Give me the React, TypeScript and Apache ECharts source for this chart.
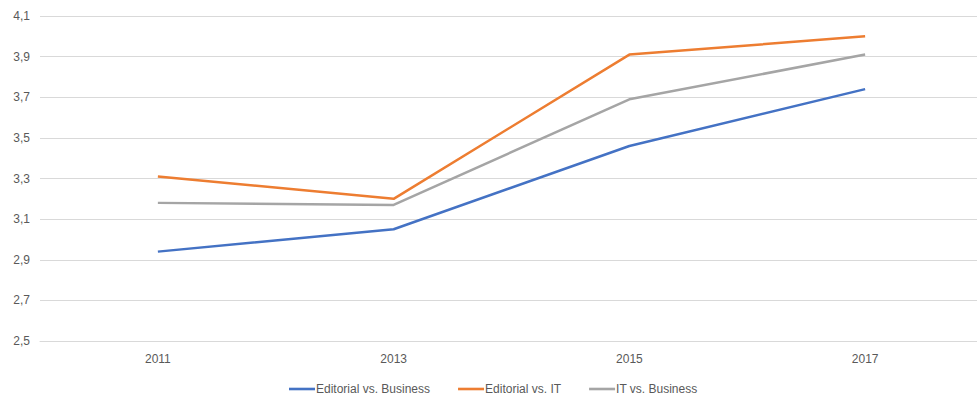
import React, { useEffect, useRef } from "react";
import * as echarts from "echarts";

const years = ["2011", "2013", "2015", "2017"];
const editorialVsBusiness = [2.94, 3.05, 3.46, 3.74];
const editorialVsIT = [3.31, 3.2, 3.91, 4.0];
const itVsBusiness = [3.18, 3.17, 3.69, 3.91];

export default function App() {
  const ref = useRef<HTMLDivElement>(null);
  useEffect(() => {
    if (!ref.current) return;
    const chart = echarts.init(ref.current, undefined, { renderer: "svg" });
    const font = "'Liberation Sans', sans-serif";
    chart.setOption({
      animation: false,
      grid: { left: 40, top: 16, right: 7, bottom: 56, containLabel: false },
      xAxis: {
        type: "category",
        data: years,
        boundaryGap: true,
        axisLine: { show: true, lineStyle: { color: "#d9d9d9", width: 1 } },
        axisTick: { show: false },
        axisLabel: { color: "#595959", fontSize: 12, fontFamily: font, margin: 12 },
      },
      yAxis: {
        type: "value",
        min: 2.5,
        max: 4.1,
        interval: 0.2,
        axisLine: { show: false },
        axisTick: { show: false },
        splitLine: { lineStyle: { color: "#d9d9d9", width: 1 } },
        axisLabel: {
          color: "#595959",
          fontSize: 12,
          fontFamily: font,
          margin: 10,
          formatter: (v: number) => v.toFixed(1).replace(".", ","),
        },
      },
      legend: {
        top: 383,
        left: 289,
        padding: 0,
        icon: "path://M0,0 L30,0 L30,3 L0,3 Z",
        itemWidth: 26,
        itemHeight: 3,
        itemGap: 28,
        textStyle: { color: "#595959", fontSize: 12, fontFamily: font, padding: [0, 0, 0, -4] },
        data: ["Editorial vs. Business", "Editorial vs. IT", "IT vs. Business"],
      },
      series: [
        {
          name: "Editorial vs. Business",
          type: "line",
          data: editorialVsBusiness,
          symbol: "none",
          lineStyle: { color: "#4472C4", width: 2.5 },
          itemStyle: { color: "#4472C4" },
        },
        {
          name: "Editorial vs. IT",
          type: "line",
          data: editorialVsIT,
          symbol: "none",
          lineStyle: { color: "#ED7D31", width: 2.5 },
          itemStyle: { color: "#ED7D31" },
        },
        {
          name: "IT vs. Business",
          type: "line",
          data: itVsBusiness,
          symbol: "none",
          lineStyle: { color: "#A5A5A5", width: 2.5 },
          itemStyle: { color: "#A5A5A5" },
        },
      ],
    });
    return () => chart.dispose();
  }, []);
  return (
    <div
      style={{
        width: 977,
        height: 397,
        position: "absolute",
        left: 0,
        top: 0,
        overflow: "hidden",
        background: "#fff",
      }}
    >
      <div ref={ref} style={{ width: 990, height: 397 }} />
    </div>
  );
}
